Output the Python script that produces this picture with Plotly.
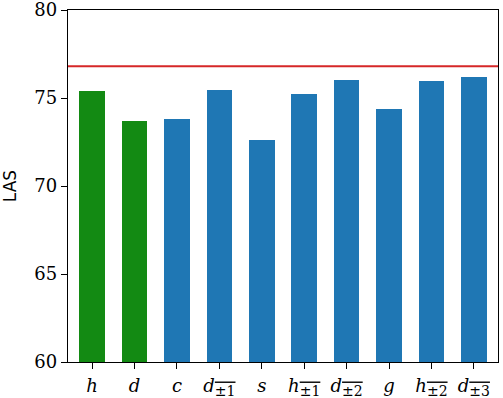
import plotly.graph_objects as go

categories = ["h", "d", "c", "d±1", "s", "h±1", "d±2", "g", "h±2", "d±3"]
sub_style = "font-size:14px;text-decoration:overline"
tick_labels = [
    "<i>h</i>",
    "<i>d</i>",
    "<i>c</i>",
    f"<i>d</i><sub><span style='{sub_style}'>±1</span></sub>",
    "<i>s</i>",
    f"<i>h</i><sub><span style='{sub_style}'>±1</span></sub>",
    f"<i>d</i><sub><span style='{sub_style}'>±2</span></sub>",
    "<i>g</i>",
    f"<i>h</i><sub><span style='{sub_style}'>±2</span></sub>",
    f"<i>d</i><sub><span style='{sub_style}'>±3</span></sub>",
]
las_values = [75.37, 73.72, 73.8, 75.45, 72.62, 75.2, 76.02, 74.4, 75.97, 76.22]
baseline_las = 76.8
group = ["green", "green", "blue", "blue", "blue", "blue", "blue", "blue", "blue", "blue"]

color_map = {"green": "#138a13", "blue": "#1f77b4"}
xs = list(range(len(categories)))

fig = go.Figure()
fig.add_trace(go.Bar(
    x=xs, y=las_values, width=0.6,
    marker=dict(color=[color_map[g] for g in group], line=dict(width=0)),
    base=0,
))
fig.add_shape(type="line", xref="paper", x0=0, x1=1, yref="y",
              y0=baseline_las, y1=baseline_las,
              line=dict(color="#d62728", width=2))

serif = "DejaVu Serif"
fig.update_layout(
    width=503, height=398,
    margin=dict(l=68, r=5, t=10, b=36),
    plot_bgcolor="white", paper_bgcolor="white",
    showlegend=False,
    bargap=0,
    font=dict(family=serif, color="black"),
)
fig.update_xaxes(
    range=[-0.57, 9.57], tickmode="array", tickvals=xs, ticktext=tick_labels,
    showgrid=False, zeroline=False, automargin=False,
    showline=True, linecolor="black", linewidth=1.3, mirror=True,
    ticks="outside", ticklen=6, tickwidth=1.2, tickcolor="black",
    tickfont=dict(family=serif, size=18, color="black"),
    ticklabeloverflow="allow", ticklabelstandoff=1,
)
fig.update_yaxes(
    range=[60, 80], tickmode="array", tickvals=[60, 65, 70, 75, 80],
    ticktext=["60", "65", "70", "75", "80"],
    showgrid=False, zeroline=False, automargin=False,
    showline=True, linecolor="black", linewidth=1.3, mirror=True,
    ticks="outside", ticklen=6, tickwidth=1.2, tickcolor="black",
    tickfont=dict(family=serif, size=18, color="black"),
    ticklabeloverflow="allow",
    title=dict(text="LAS", font=dict(family="DejaVu Sans", size=17, color="black"), standoff=14),
)

fig.write_html("out.html")
